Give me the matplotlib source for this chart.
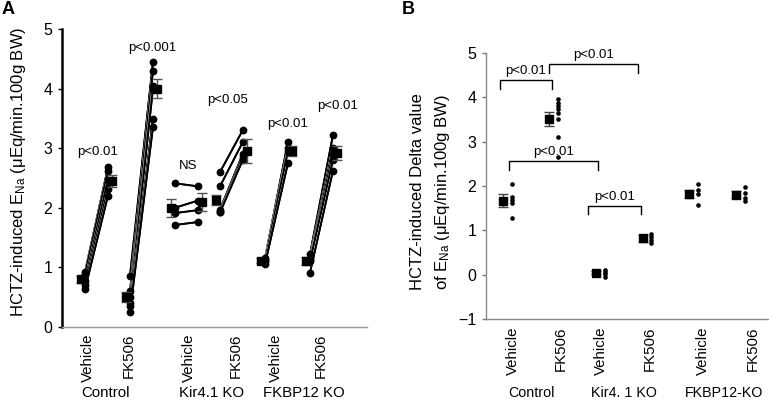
import matplotlib
matplotlib.use("Agg")
import matplotlib.pyplot as plt
import matplotlib.patheffects as pe
import numpy as np

plt.rcParams['font.family'] = ['Liberation Sans', 'DejaVu Sans']
plt.rcParams['mathtext.fontset'] = 'custom'
plt.rcParams['mathtext.rm'] = 'Liberation Sans'
plt.rcParams['mathtext.it'] = 'Liberation Sans:italic'

# ---------------- Panel A data ----------------
groups = ["Control", "Kir4.1 KO", "FKBP12 KO"]
treatments = ["Vehicle", "FK506"]
# paired baseline (before) and HCTZ (after) values for each column, per animal
ctrl_veh_before = [0.92, 0.88, 0.76, 0.70, 0.63]
ctrl_veh_after = [2.68, 2.62, 2.47, 2.31, 2.20]
ctrl_fk_before = [0.86, 0.60, 0.50, 0.40, 0.35, 0.25]
ctrl_fk_after = [4.45, 4.30, 4.05, 4.00, 3.50, 3.35]
kir_veh_before = [2.41, 2.00, 1.91, 1.71]
kir_veh_after = [2.36, 2.12, 1.96, 1.76]
kir_fk_before = [2.60, 2.36, 1.97, 1.93, 1.92]
kir_fk_after = [3.31, 3.11, 2.91, 2.86, 2.81]
fkbp_veh_before = [1.15, 1.12, 1.10, 1.05]
fkbp_veh_after = [3.11, 3.00, 2.95, 2.75]
fkbp_fk_before = [1.22, 1.15, 1.12, 1.10, 0.91]
fkbp_fk_after = [3.22, 3.01, 2.91, 2.80, 2.62]
# means +/- SEM shown as squares
meanA_before = [0.80, 0.50, 2.00, 2.13, 1.11, 1.10]
semA_before = [0.06, 0.08, 0.15, 0.08, 0.04, 0.07]
meanA_after = [2.45, 4.00, 2.10, 2.96, 2.95, 2.92]
semA_after = [0.10, 0.16, 0.15, 0.20, 0.08, 0.12]
pA_labels = ["p<0.01", "p<0.001", "NS", "p<0.05", "p<0.01", "p<0.01"]
pA_y = [2.94, 4.68, 2.70, 3.81, 3.41, 3.71]

# ---------------- Panel B data ----------------
deltaB = [
    [2.05, 1.75, 1.68, 1.62, 1.27],
    [3.95, 3.87, 3.80, 3.73, 3.64, 3.51, 3.10, 2.65],
    [0.12, 0.06, 0.02, -0.05],
    [0.92, 0.85, 0.78, 0.72],
    [2.04, 1.92, 1.82, 1.57],
    [1.98, 1.84, 1.72, 1.66],
]
meanB = [1.67, 3.50, 0.05, 0.82, 1.82, 1.80]
semB = [0.15, 0.16, 0.03, 0.08, 0.08, 0.08]
groupsB = ["Control", "Kir4. 1 KO", "FKBP12-KO"]
# significance brackets: (left column, right column, height, label)
bracketsB = [(0, 1, 4.38, "p<0.01"), (1, 3, 4.74, "p<0.01"),
             (0, 2, 2.56, "p<0.01"), (2, 3, 1.55, "p<0.01")]

W, H = 769, 400
fig = plt.figure(figsize=(W / 100, H / 100), dpi=100)

def fx(p):
    return p / W

def fy(p):
    return 1 - p / H

FS = 10.8
PFS = 9.5

# ================= Panel A =================
axA = fig.add_axes([fx(62), fy(326.7), fx(367 - 62), (326.7 - 29.3) / H])
beforeA = [ctrl_veh_before, ctrl_fk_before, kir_veh_before, kir_fk_before,
           fkbp_veh_before, fkbp_fk_before]
afterA = [ctrl_veh_after, ctrl_fk_after, kir_veh_after, kir_fk_after,
          fkbp_veh_after, fkbp_fk_after]
off_after = 0.51
for i, (b, a) in enumerate(zip(beforeA, afterA)):
    for vb, va in zip(b, a):
        axA.plot([i, i + off_after], [vb, va], color='black', lw=1.3,
                 zorder=3,
                 path_effects=[pe.withStroke(linewidth=1.8, foreground='white'), pe.Normal()])
        axA.plot([i, i + off_after], [vb, va], ls='none', marker='o', ms=4.6,
                 mfc='black', mec='black', zorder=3.5)
    axA.errorbar(i - 0.08, meanA_before[i], yerr=semA_before[i], fmt='s',
                 color='black', ms=6.2, ecolor='#555555', elinewidth=1,
                 capsize=3.5, capthick=1, zorder=4)
    axA.errorbar(i + off_after + 0.09, meanA_after[i], yerr=semA_after[i], fmt='s',
                 color='black', ms=6.2, ecolor='#555555', elinewidth=1,
                 capsize=3.5, capthick=1, zorder=4)
pA_x = [(97.5 - 85) / 45, (152.5 - 85) / 45, (188 - 85) / 45,
        (228 - 85) / 45, (287.5 - 85) / 45, (338 - 85) / 45]
for x, y, t in zip(pA_x, pA_y, pA_labels):
    axA.text(x, y, t, ha='center', va='center', fontsize=PFS)

axA.set_xlim((62 - 85) / 45, (367 - 85) / 45)
axA.set_ylim(0, 5)
axA.set_yticks([0, 1, 2, 3, 4, 5])
axA.tick_params(axis='y', labelsize=11.5, length=3, width=1, direction='out', pad=4)
tickposA = [(88 - 85) / 45, (129 - 85) / 45, (189 - 85) / 45,
            (236 - 85) / 45, (276 - 85) / 45, (321 - 85) / 45]
axA.set_xticks(tickposA)
axA.set_xticklabels(treatments * 3, rotation=90, fontsize=FS)
axA.tick_params(axis='x', length=0, pad=5)
for s in ['top', 'right']:
    axA.spines[s].set_visible(False)
axA.spines['left'].set_linewidth(1.8)
axA.spines['left'].set_color('black')
axA.spines['bottom'].set_color('#999999')
axA.spines['bottom'].set_linewidth(1)

for cx, g in zip([105, 212, 304], groups):
    fig.text(fx(cx), fy(393), g, ha='center', va='center', fontsize=FS)
fig.text(fx(19), fy(172), r"HCTZ-induced E$_{\mathregular{Na}}$ ($\mathregular{\mu}$Eq/min.100g BW)",
         rotation=90, ha='center', va='center', fontsize=12)
fig.text(fx(2), fy(9), "A", fontsize=13, fontweight='bold', ha='left', va='center')

# ================= Panel B =================
x0B, dxB = 502.7, 46.8
axB = fig.add_axes([fx(486), fy(319.3), fx(768 - 486), (319.3 - 52.7) / H])
for i in range(6):
    axB.errorbar(i, meanB[i], yerr=semB[i], fmt='s', color='black', ms=5.5,
                 ecolor='#444444', elinewidth=1, capsize=3.5, capthick=1, zorder=4)
    axB.plot([i + 0.19] * len(deltaB[i]), deltaB[i], 'o', color='black', ms=2.3,
             zorder=3, ls='none')
bracket_ends = [(-0.06, 0.06), (-0.004, -0.10), (0.14, 0.04), (-0.16, -0.03)]
for (l, r, h, t), (dl, dr) in zip(bracketsB, bracket_ends):
    leg = 0.19
    xl, xr = l + dl, r + dr
    axB.plot([xl, xl, xr, xr], [h - leg, h, h, h - leg], color='black', lw=1)
    axB.text((xl + xr) / 2, h + 0.07, t, ha='center', va='bottom', fontsize=PFS)
axB.set_xlim((486 - x0B) / dxB, (769 - x0B) / dxB)
axB.set_ylim(-1, 5)
axB.set_yticks([-1, 0, 1, 2, 3, 4, 5])
axB.tick_params(axis='y', labelsize=11.5, length=3, width=1, direction='out',
                color='#777777', pad=4)
tickposB = [(p - x0B) / dxB for p in [513.3, 560.7, 601.7, 650.7, 704, 754]]
axB.set_xticks(tickposB)
axB.set_xticklabels(treatments * 3, rotation=90, fontsize=FS)
axB.tick_params(axis='x', length=0, pad=5)
for s in ['top', 'right']:
    axB.spines[s].set_visible(False)
for s in ['left', 'bottom']:
    axB.spines[s].set_color('#888888')
    axB.spines[s].set_linewidth(1)
for cx, g in zip([531, 624, 724], groupsB):
    fig.text(fx(cx), fy(393), g, ha='center', va='center', fontsize=10.3)
fig.text(fx(418), fy(192), "HCTZ-induced Delta value", rotation=90,
         ha='center', va='center', fontsize=12)
fig.text(fx(443), fy(192), r"of E$_{\mathregular{Na}}$ ($\mathregular{\mu}$Eq/min.100g BW)", rotation=90,
         ha='center', va='center', fontsize=12)
fig.text(fx(402), fy(9), "B", fontsize=13, fontweight='bold', ha='left', va='center')

fig.savefig("out.png", dpi=100)
